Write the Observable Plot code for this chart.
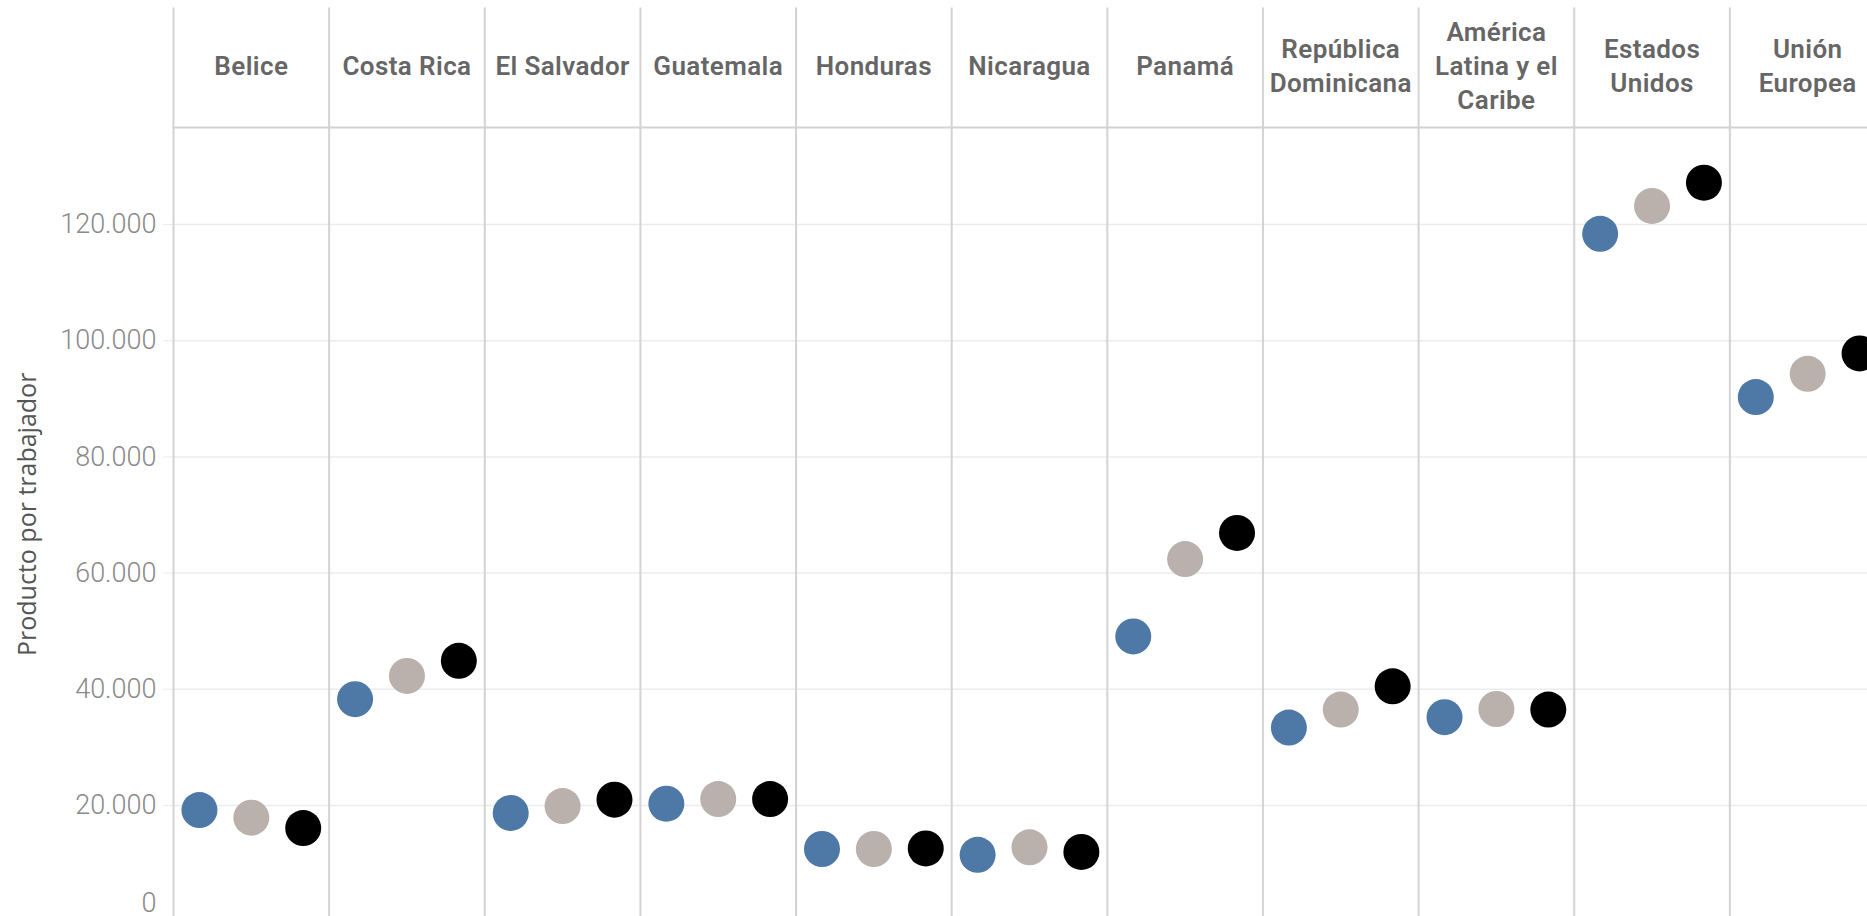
<!DOCTYPE html>
<html><head><meta charset="utf-8">
<script src="https://cdn.jsdelivr.net/npm/d3@7"></script>
<script src="https://cdn.jsdelivr.net/npm/@observablehq/plot@0.6"></script>
<style>
html,body{margin:0;padding:0;background:#fff;overflow:hidden;}
#chart svg{display:block;max-width:none !important;width:1885px !important;height:940px !important;}
g[aria-label="ytitle"] text{letter-spacing:2.6px;}
g[aria-label="fx-axis tick label"] text{letter-spacing:0.4px;}
</style></head><body><div id="chart"></div>
<script>
const paises = ["Belice","Costa Rica","El Salvador","Guatemala","Honduras","Nicaragua","Panamá","República Dominicana","América Latina y el Caribe","Estados Unidos","Unión Europea"];
const etiquetas = ["Belice","Costa Rica","El Salvador","Guatemala","Honduras","Nicaragua","Panamá","República\nDominicana","América\nLatina y el\nCaribe","Estados\nUnidos","Unión\nEuropea"];
const series = ["Serie 1","Serie 2","Serie 3"];
const colores = ["#4e79a7","#bab0ac","#000000"];
const valoresSerie1 = [19200, 38300, 18700, 20300, 12500, 11500, 49100, 33400, 35200, 118400, 90300];
const valoresSerie2 = [17900, 42300, 19900, 21100, 12500, 12800, 62400, 36500, 36600, 123200, 94300];
const valoresSerie3 = [16100, 44900, 21000, 21100, 12600, 12000, 66900, 40500, 36500, 127200, 97800];
const ticksY = [20000, 40000, 60000, 80000, 100000, 120000];
const tickCero = [0];
const tituloY = "Producto por trabajador";

const valores = [valoresSerie1, valoresSerie2, valoresSerie3];
const datos = paises.flatMap((p, i) => series.map((s, j) => ({pais: p, serie: s, valor: valores[j][i]})));
const fmt = d3.formatLocale({decimal: ",", thousands: ".", grouping: [3], currency: ["", ""]}).format(",d");
const etiqueta = new Map(paises.map((p, i) => [p, etiquetas[i]]));

const chart = Plot.plot({
  width: 1885, height: 940,
  marginLeft: 173, marginRight: 0, marginTop: 127, marginBottom: 0,
  style: {fontFamily: "Roboto, sans-serif", background: "#fff", overflow: "visible"},
  fx: {domain: paises, padding: 0, round: false, label: null},
  x: {type: "point", domain: series, padding: 0.5, round: false, axis: null},
  y: {domain: [-3250, 136700], axis: null},
  color: {domain: series, range: colores},
  marks: [
    Plot.gridY(ticksY, {stroke: "#ececec", strokeOpacity: 1, strokeWidth: 1.5}),
    Plot.axisY(ticksY, {tickSize: 10, tickPadding: 7, tickFormat: fmt, stroke: "#ececec", fill: "#8a8a8a", fontSize: 27, fontWeight: 300, label: null}),
    Plot.axisY(tickCero, {tickSize: 0, tickPadding: 17, tickFormat: fmt, dy: -18, fill: "#8a8a8a", fontSize: 27, fontWeight: 300, label: null}),
    Plot.axisFx({anchor: "top", tickSize: 0, tickPadding: 63, lineAnchor: "middle", lineHeight: 1.31, tickFormat: d => etiqueta.get(d), fontSize: 26, fontWeight: 600, fill: "#666", label: null}),
    Plot.frame({anchor: "top", stroke: "#d3d3d3", strokeWidth: 2}),
    Plot.frame({anchor: "left", stroke: "#d3d3d3", strokeWidth: 2, insetTop: -119}),
    Plot.dot(datos, {fx: "pais", x: "serie", y: "valor", fill: "serie", r: 18}),
    Plot.text([tituloY], {facet: "super", frameAnchor: "left", rotate: -90, dx: -146, dy: 122, fontSize: 25, fill: "#555", fontFamily: "Open Sans", ariaLabel: "ytitle"})
  ]
});
document.getElementById("chart").append(chart);
</script></body></html>
